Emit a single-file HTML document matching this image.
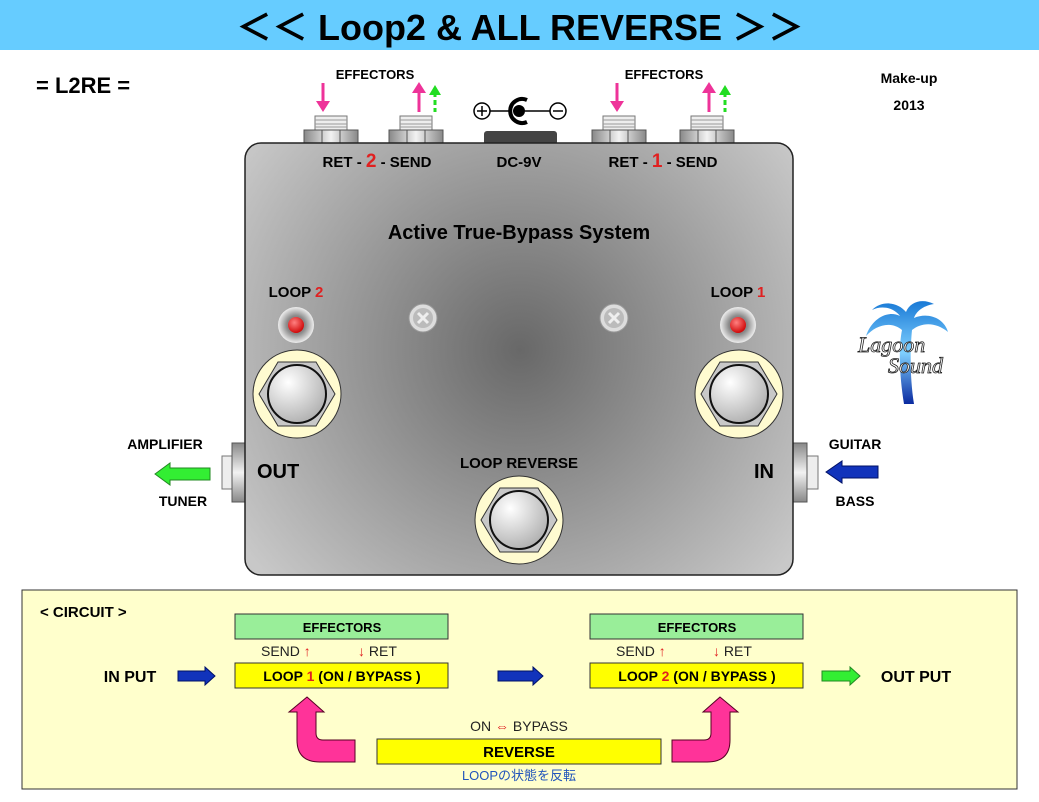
<!DOCTYPE html>
<html><head><meta charset="utf-8"><style>
html,body{margin:0;padding:0;background:#fff;}
svg{display:block;font-family:"Liberation Sans","Noto Sans CJK JP",sans-serif;}
</style></head><body>
<svg width="1039" height="802" viewBox="0 0 1039 802" xmlns="http://www.w3.org/2000/svg">
<defs>
<radialGradient id="body" cx="520" cy="350" r="340" gradientUnits="userSpaceOnUse">
<stop offset="0" stop-color="#686868"/><stop offset="1" stop-color="#c8c8c8"/></radialGradient>
<linearGradient id="nut" x1="0" x2="1"><stop offset="0" stop-color="#888"/><stop offset="0.5" stop-color="#f2f2f2"/><stop offset="1" stop-color="#888"/></linearGradient>
<linearGradient id="nutv" x1="0" x2="0" y1="0" y2="1"><stop offset="0" stop-color="#888"/><stop offset="0.5" stop-color="#f2f2f2"/><stop offset="1" stop-color="#888"/></linearGradient>
<radialGradient id="btn" cx="0.35" cy="0.3" r="0.8"><stop offset="0" stop-color="#fff"/><stop offset="1" stop-color="#aaa"/></radialGradient>
<radialGradient id="led" cx="0.4" cy="0.35" r="0.7"><stop offset="0" stop-color="#ff8080"/><stop offset="1" stop-color="#c00"/></radialGradient>
<radialGradient id="ledr" cx="0.5" cy="0.5" r="0.5"><stop offset="0.5" stop-color="#888"/><stop offset="1" stop-color="#eee"/></radialGradient>
<linearGradient id="palm" x1="0" x2="0" y1="0" y2="1"><stop offset="0" stop-color="#1a7ad6"/><stop offset="0.5" stop-color="#7fd0ff"/><stop offset="1" stop-color="#0a2aa0"/></linearGradient>
<g id="fs"><circle r="44" fill="#fffbd0" stroke="#333" stroke-width="1"/>
<polygon points="-38,0 -19,-32 19,-32 38,0 19,32 -19,32" fill="#c8c8c8" stroke="#333"/>
<circle r="29" fill="url(#btn)" stroke="#111" stroke-width="2"/></g>
<g id="tj"><rect x="-16" y="-27" width="32" height="14" fill="#eee" stroke="#777"/>
<line x1="-16" x2="16" y1="-23" y2="-23" stroke="#999"/><line x1="-16" x2="16" y1="-19" y2="-19" stroke="#999"/><line x1="-16" x2="16" y1="-16" y2="-16" stroke="#999"/>
<rect x="-27" y="-13" width="54" height="13" fill="url(#nut)" stroke="#555"/>
<line x1="-9" x2="-9" y1="-13" y2="0" stroke="#555"/><line x1="9" x2="9" y1="-13" y2="0" stroke="#555"/></g>
<g id="screw"><circle r="14" fill="#ddd" stroke="#999"/><circle r="10" fill="#bbb"/><path d="M-5,-5 L5,5 M5,-5 L-5,5" stroke="#eee" stroke-width="3"/></g>
</defs>
<rect x="0" y="0" width="1039" height="50" fill="#66ccff"/>
<text x="520" y="40" font-size="36" font-weight="bold" text-anchor="middle" fill="#000">＜＜ Loop2 &amp; ALL REVERSE ＞＞</text>
<text x="36" y="93" font-size="22" font-weight="bold">= L2RE =</text>
<text x="909" y="83" font-size="14" font-weight="bold" text-anchor="middle">Make-up</text>
<text x="909" y="110" font-size="14" font-weight="bold" text-anchor="middle">2013</text>
<text x="375" y="79" font-size="13" font-weight="bold" text-anchor="middle">EFFECTORS</text>
<text x="664" y="79" font-size="13" font-weight="bold" text-anchor="middle">EFFECTORS</text>
<g stroke="#ee3399" stroke-width="3" fill="#ee3399">
<line x1="323" y1="83" x2="323" y2="104"/><path d="M316,101 L323,112 L330,101Z" stroke="none"/>
<line x1="419" y1="90" x2="419" y2="112"/><path d="M412,93 L419,82 L426,93Z" stroke="none"/>
<line x1="617" y1="83" x2="617" y2="104"/><path d="M610,101 L617,112 L624,101Z" stroke="none"/>
<line x1="709" y1="90" x2="709" y2="112"/><path d="M702,93 L709,82 L716,93Z" stroke="none"/></g>
<g stroke="#22dd22" stroke-width="3" fill="#22dd22">
<line x1="435" y1="92" x2="435" y2="112" stroke-dasharray="5,3"/><path d="M429,95 L435,85 L441,95Z" stroke="none"/>
<line x1="725" y1="92" x2="725" y2="112" stroke-dasharray="5,3"/><path d="M719,95 L725,85 L731,95Z" stroke="none"/></g>
<circle cx="482" cy="111" r="8" fill="none" stroke="#000" stroke-width="1.5"/><path d="M477,111h10M482,106v10" stroke="#000" stroke-width="1.5"/>
<line x1="490" y1="111" x2="509" y2="111" stroke="#000" stroke-width="1.5"/>
<path d="M527,100 A12,12 0 1 0 527,122" fill="none" stroke="#000" stroke-width="4"/>
<circle cx="519" cy="111" r="6" fill="#000"/>
<line x1="525" y1="111" x2="550" y2="111" stroke="#000" stroke-width="1.5"/>
<circle cx="558" cy="111" r="8" fill="none" stroke="#000" stroke-width="1.5"/><path d="M553,111h10" stroke="#000" stroke-width="1.5"/>
<rect x="484" y="131" width="73" height="14" rx="3" fill="#444"/>
<use href="#tj" x="331" y="143"/><use href="#tj" x="416" y="143"/><use href="#tj" x="619" y="143"/><use href="#tj" x="707" y="143"/>
<rect x="222" y="456" width="12" height="33" fill="#eee" stroke="#777"/>
<rect x="232" y="443" width="14" height="59" fill="url(#nutv)" stroke="#555"/>
<rect x="806" y="456" width="12" height="33" fill="#eee" stroke="#777"/>
<rect x="793" y="443" width="14" height="59" fill="url(#nutv)" stroke="#555"/>
<rect x="245" y="143" width="548" height="432" rx="16" fill="url(#body)" stroke="#222" stroke-width="1.5"/>
<g font-weight="bold" font-size="15" text-anchor="middle">
<text x="377" y="167">RET - <tspan fill="#e02020" font-size="19">2</tspan> - SEND</text>
<text x="519" y="167">DC-9V</text>
<text x="663" y="167">RET - <tspan fill="#e02020" font-size="19">1</tspan> - SEND</text>
<text x="519" y="239" font-size="20">Active True-Bypass System</text>
<text x="296" y="297">LOOP <tspan fill="#e02020">2</tspan></text>
<text x="738" y="297">LOOP <tspan fill="#e02020">1</tspan></text>
<text x="519" y="468">LOOP REVERSE</text>
</g>
<text x="257" y="478" font-size="20" font-weight="bold">OUT</text>
<text x="754" y="478" font-size="20" font-weight="bold">IN</text>
<circle cx="296" cy="325" r="18" fill="url(#ledr)"/><circle cx="296" cy="325" r="8" fill="url(#led)"/>
<circle cx="738" cy="325" r="18" fill="url(#ledr)"/><circle cx="738" cy="325" r="8" fill="url(#led)"/>
<use href="#screw" x="423" y="318"/><use href="#screw" x="614" y="318"/>
<use href="#fs" x="297" y="394"/><use href="#fs" x="739" y="394"/><use href="#fs" x="519" y="520"/>
<g font-weight="bold" font-size="14" text-anchor="middle">
<text x="165" y="449">AMPLIFIER</text><text x="183" y="506">TUNER</text>
<text x="855" y="449">GUITAR</text><text x="855" y="506">BASS</text></g>
<path d="M155,474 L170,463 L170,468 L210,468 L210,480 L170,480 L170,485 Z" fill="#33ee33" stroke="#228822"/>
<path d="M826,472 L842,461 L842,466 L878,466 L878,478 L842,478 L842,483 Z" fill="#1133bb" stroke="#001166"/>
<path d="M904,404 C900,380 898,350 902,330 C890,320 875,326 866,336 C872,318 888,310 900,316 C892,306 880,306 872,310 C882,300 898,302 906,312 C910,302 922,298 934,304 C922,306 916,312 914,318 C928,312 944,318 948,332 C936,322 922,322 912,330 C910,350 910,380 914,404 Z" fill="url(#palm)"/>
<text x="858" y="352" font-family="Liberation Serif,serif" font-style="italic" font-size="22" fill="#fff" stroke="#222" stroke-width="0.8">Lagoon</text>
<text x="888" y="373" font-family="Liberation Serif,serif" font-style="italic" font-size="22" fill="#fff" stroke="#222" stroke-width="0.8">Sound</text>
<rect x="22" y="590" width="995" height="199" fill="#ffffcc" stroke="#333"/>
<text x="40" y="617" font-size="15" font-weight="bold">&lt; CIRCUIT &gt;</text>
<g stroke="#333" stroke-width="1">
<rect x="235" y="614" width="213" height="25" fill="#99ee99"/><rect x="590" y="614" width="213" height="25" fill="#99ee99"/>
<rect x="235" y="663" width="213" height="25" fill="#ffff00"/><rect x="590" y="663" width="213" height="25" fill="#ffff00"/>
<rect x="377" y="739" width="284" height="25" fill="#ffff00"/></g>
<g font-weight="bold" text-anchor="middle" font-size="14">
<text x="342" y="632" font-size="13">EFFECTORS</text><text x="697" y="632" font-size="13">EFFECTORS</text>
<text x="342" y="681">LOOP <tspan fill="#e02020">1</tspan> (ON / BYPASS )</text>
<text x="697" y="681">LOOP <tspan fill="#e02020">2</tspan> (ON / BYPASS )</text>
<text x="519" y="757" font-size="15">REVERSE</text>
<text x="130" y="682" font-size="16">IN PUT</text><text x="916" y="682" font-size="16">OUT PUT</text></g>
<g font-size="14" fill="#222">
<text x="261" y="656">SEND <tspan fill="#e02020">↑</tspan></text><text x="358" y="656"><tspan fill="#e02020">↓</tspan> RET</text>
<text x="616" y="656">SEND <tspan fill="#e02020">↑</tspan></text><text x="713" y="656"><tspan fill="#e02020">↓</tspan> RET</text>
<text x="519" y="731" text-anchor="middle">ON <tspan fill="#e02020">⇔</tspan> BYPASS</text>
<text x="519" y="780" text-anchor="middle" fill="#2255bb" font-size="13">LOOPの状態を反転</text></g>
<g fill="#1133bb" stroke="#001166">
<path d="M178,671 L205,671 L205,667 L215,676 L205,685 L205,681 L178,681 Z"/>
<path d="M498,671 L533,671 L533,667 L543,676 L533,685 L533,681 L498,681 Z"/></g>
<path d="M822,671 L850,671 L850,667 L860,676 L850,685 L850,681 L822,681 Z" fill="#33ee33" stroke="#228822"/>
<g fill="#ff3399" stroke="#550022">
<path d="M307,697 L324,712 L316,712 L316,733 Q316,740 323,740 L355,740 L355,762 L320,762 Q297,762 297,740 L297,712 L289,712 Z"/>
<path d="M720,697 L703,712 L711,712 L711,733 Q711,740 704,740 L672,740 L672,762 L707,762 Q730,762 730,740 L730,712 L738,712 Z"/></g>
</svg>
</body></html>
